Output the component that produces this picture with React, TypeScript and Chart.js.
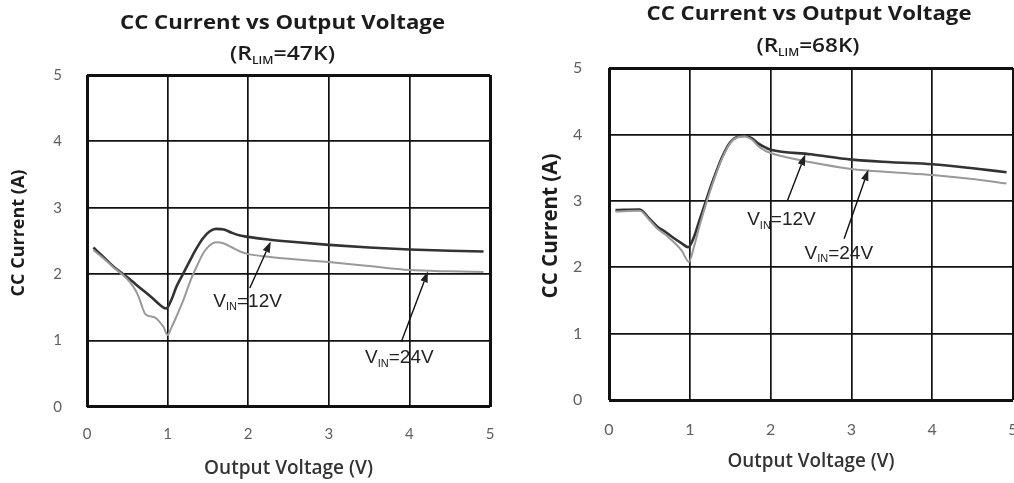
import React, { useEffect, useRef } from "react";
import { Chart, registerables } from "chart.js";
Chart.register(...registerables);

// ---------------- data ----------------
const xTickValues = [0, 1, 2, 3, 4, 5];
const yTickValues = [0, 1, 2, 3, 4, 5];
const xTickLabels = ["0", "1", "2", "3", "4", "5"];
const yTickLabels = ["0", "1", "2", "3", "4", "5"];

const seriesNames = ["VIN=12V", "VIN=24V"];

// Left panel (RLIM = 47K)
const left12V_x = [0.08, 0.2, 0.33, 0.5, 0.66, 0.8, 0.91, 0.98, 1.05, 1.11, 1.2, 1.28, 1.36, 1.44, 1.52, 1.6, 1.7, 1.8, 1.9, 2.0, 2.25, 2.5, 3.0, 3.5, 4.0, 4.5, 4.92];
const left12V_y = [2.40, 2.26, 2.11, 1.95, 1.79, 1.65, 1.53, 1.48, 1.62, 1.81, 2.02, 2.21, 2.39, 2.54, 2.64, 2.68, 2.67, 2.62, 2.58, 2.56, 2.52, 2.49, 2.44, 2.40, 2.37, 2.35, 2.34];
const left24V_x = [0.08, 0.2, 0.33, 0.45, 0.53, 0.6, 0.64, 0.68, 0.72, 0.76, 0.8, 0.85, 0.9, 0.95, 1.0, 1.05, 1.11, 1.2, 1.28, 1.36, 1.44, 1.52, 1.6, 1.7, 1.8, 1.9, 2.0, 2.25, 2.5, 3.0, 3.5, 4.0, 4.5, 4.92];
const left24V_y = [2.36, 2.24, 2.10, 1.98, 1.88, 1.76, 1.66, 1.52, 1.40, 1.37, 1.36, 1.34, 1.28, 1.20, 1.08, 1.20, 1.36, 1.62, 1.89, 2.11, 2.31, 2.43, 2.48, 2.46, 2.40, 2.34, 2.30, 2.26, 2.23, 2.18, 2.12, 2.06, 2.04, 2.03];

// Right panel (RLIM = 68K)
const right12V_x = [0.08, 0.38, 0.5, 0.6, 0.7, 0.8, 0.9, 0.98, 1.05, 1.12, 1.2, 1.3, 1.4, 1.5, 1.6, 1.68, 1.77, 1.85, 1.94, 2.0, 2.5, 3.0, 3.5, 4.0, 4.5, 4.92];
const right12V_y = [2.86, 2.87, 2.73, 2.61, 2.53, 2.44, 2.36, 2.30, 2.45, 2.71, 3.0, 3.35, 3.66, 3.88, 3.97, 3.98, 3.94, 3.86, 3.80, 3.77, 3.70, 3.62, 3.58, 3.55, 3.49, 3.43];
const right24V_x = [0.08, 0.38, 0.5, 0.6, 0.7, 0.8, 0.9, 0.99, 1.05, 1.12, 1.2, 1.3, 1.4, 1.5, 1.6, 1.68, 1.77, 1.85, 1.94, 2.0, 2.5, 3.0, 3.5, 4.0, 4.5, 4.92];
const right24V_y = [2.84, 2.85, 2.71, 2.58, 2.49, 2.38, 2.25, 2.08, 2.30, 2.62, 2.95, 3.32, 3.64, 3.87, 3.96, 3.97, 3.92, 3.82, 3.75, 3.72, 3.58, 3.48, 3.43, 3.39, 3.33, 3.26];

// annotation anchors (data units): label start/baseline, arrow tail, arrow tip
const leftLabelAt = [[1.567, 1.51], [3.45, 0.66]];
const leftArrowFrom = [[2.02, 1.79], [3.90, 0.98]];
const leftArrowTo = [[2.28, 2.49], [4.23, 2.04]];
const rightLabelAt = [[1.71, 2.63], [2.42, 2.13]];
const rightArrowFrom = [[2.21, 3.01], [2.91, 2.43]];
const rightArrowTo = [[2.43, 3.70], [3.21, 3.47]];

const titleText = "CC Current vs Output Voltage";
const leftSubtitle = [{ t: "(R" }, { t: "LIM", sub: true }, { t: "=47K)" }];
const rightSubtitle = [{ t: "(R" }, { t: "LIM", sub: true }, { t: "=68K)" }];
const labelPieces = [
  [{ t: "V" }, { t: "IN", sub: true }, { t: "=12V" }],
  [{ t: "V" }, { t: "IN", sub: true }, { t: "=24V" }],
];
const yTitle = "CC Current (A)";
const xTitle = "Output Voltage (V)";

const TITLE_FAMILY = "'Open Sans', Lato, sans-serif";
const TICK_FAMILY = "Lato, 'Open Sans', sans-serif";
const NOTE_FAMILY = "'Liberation Sans', Arial, sans-serif";

// ---------------- helpers ----------------
type Piece = { t: string; sub?: boolean };

let measureCtx: CanvasRenderingContext2D | null = null;
function textWidth(text: string, font: string): number {
  if (!measureCtx) measureCtx = document.createElement("canvas").getContext("2d");
  measureCtx!.font = font;
  return measureCtx!.measureText(text).width;
}
function fitSize(text: string, weight: string, family: string, target: number): number {
  return (100 * target) / textWidth(text, `${weight} 100px ${family}`);
}

function richWidth(ctx: CanvasRenderingContext2D, pieces: Piece[], mainFont: string, subFont: string) {
  return pieces.map((p) => {
    ctx.font = p.sub ? subFont : mainFont;
    return ctx.measureText(p.t).width;
  });
}

function drawRich(
  ctx: CanvasRenderingContext2D, pieces: Piece[], x: number, y: number, size: number,
  family: string, weight: string, align: "left" | "center",
  subScale: number, subDrop: number, targetWidth?: number
) {
  const mainFont = `${weight} ${size}px ${family}`;
  const subFont = `${weight} ${Math.round(size * subScale)}px ${family}`;
  const widths = richWidth(ctx, pieces, mainFont, subFont);
  const total = widths.reduce((a, b) => a + b, 0);
  const sx = targetWidth ? targetWidth / total : 1;
  ctx.save();
  ctx.translate(x, y);
  ctx.scale(sx, 1);
  let cx = align === "center" ? -total / 2 : 0;
  ctx.textAlign = "left";
  ctx.textBaseline = "alphabetic";
  pieces.forEach((p, i) => {
    ctx.font = p.sub ? subFont : mainFont;
    ctx.fillText(p.t, cx, p.sub ? size * subDrop : 0);
    cx += widths[i];
  });
  ctx.restore();
}

function drawArrow(ctx: CanvasRenderingContext2D, x1: number, y1: number, x2: number, y2: number) {
  const ang = Math.atan2(y2 - y1, x2 - x1);
  const len = 11;
  const hw = 3.8;
  const bx = x2 - Math.cos(ang) * len;
  const by = y2 - Math.sin(ang) * len;
  ctx.beginPath();
  ctx.moveTo(x1, y1);
  ctx.lineTo(bx, by);
  ctx.stroke();
  ctx.beginPath();
  ctx.moveTo(x2, y2);
  ctx.lineTo(bx + Math.sin(ang) * hw, by - Math.cos(ang) * hw);
  ctx.lineTo(bx - Math.sin(ang) * hw, by + Math.cos(ang) * hw);
  ctx.closePath();
  ctx.fill();
}

type Spec = {
  left: number; w: number; h: number;
  s12x: number[]; s12y: number[]; s24x: number[]; s24y: number[];
  labelAt: number[][]; arrowFrom: number[][]; arrowTo: number[][];
  subtitle: Piece[];
  padRight: number; padTop: number; yWidth: number; xHeight: number;
  yTickPad: number; xTickPad: number; tickSize: number;
  xTitleWidth: number; xTitleCenterY: number;
  titleX: number; titleY: number; titleSize: number; titleWidth: number;
  subX: number; subY: number; subSize: number; subWidth: number;
  yTitleX: number; yTitleY: number; yTitleLen: number;
};

const toPts = (xs: number[], ys: number[]) => xs.map((x, i) => ({ x, y: ys[i] }));

function buildConfig(spec: Spec): any {
  const yTitleSize = fitSize(yTitle, "bold", TITLE_FAMILY, spec.yTitleLen);
  const xTitleSize = fitSize(xTitle, "600", TITLE_FAMILY, spec.xTitleWidth);
  const xTitlePad = Math.max(0, spec.h - spec.xTitleCenterY - (xTitleSize * 1.2) / 2);

  const decor = {
    id: "decor",
    afterDraw(chart: any) {
      const ctx: CanvasRenderingContext2D = chart.ctx;
      const xs = chart.scales.x;
      const ys = chart.scales.y;
      ctx.save();
      ctx.fillStyle = "#1c1c1c";
      // title (horizontally fitted to the reference width)
      drawRich(ctx, [{ t: titleText }], spec.titleX, spec.titleY, spec.titleSize, TITLE_FAMILY, "bold", "center", 1, 0, spec.titleWidth);
      // subtitle with subscript
      drawRich(ctx, spec.subtitle, spec.subX, spec.subY, spec.subSize, TITLE_FAMILY, "600", "center", 0.55, 0.2, spec.subWidth);
      // y axis title
      ctx.save();
      ctx.translate(spec.yTitleX, spec.yTitleY);
      ctx.rotate(-Math.PI / 2);
      ctx.font = `bold ${yTitleSize}px ${TITLE_FAMILY}`;
      ctx.textAlign = "center";
      ctx.textBaseline = "middle";
      ctx.fillText(yTitle, 0, 0);
      ctx.restore();
      // annotations
      ctx.fillStyle = "#222";
      ctx.strokeStyle = "#111";
      ctx.lineWidth = 1.4;
      for (let k = 0; k < 2; k++) {
        const [lx, ly] = spec.labelAt[k];
        drawRich(ctx, labelPieces[k], xs.getPixelForValue(lx), ys.getPixelForValue(ly), 19, NOTE_FAMILY, "normal", "left", 0.6, 0.2);
        const [ax, ay] = spec.arrowFrom[k];
        const [bx, by] = spec.arrowTo[k];
        drawArrow(ctx, xs.getPixelForValue(ax), ys.getPixelForValue(ay), xs.getPixelForValue(bx), ys.getPixelForValue(by));
      }
      ctx.restore();
    },
  };

  const edgeWidth = (c: any) => (c.tick && (c.tick.value === 0 || c.tick.value === 5) ? 3 : 1.7);

  return {
    type: "line",
    data: {
      datasets: [
        {
          label: seriesNames[0],
          data: toPts(spec.s12x, spec.s12y),
          borderColor: "#333",
          borderWidth: 2.6,
          pointRadius: 0,
          cubicInterpolationMode: "monotone",
          fill: false,
          order: 1,
        },
        {
          label: seriesNames[1],
          data: toPts(spec.s24x, spec.s24y),
          borderColor: "#999",
          borderWidth: 2,
          pointRadius: 0,
          cubicInterpolationMode: "monotone",
          fill: false,
          order: 0,
        },
      ],
    },
    options: {
      responsive: false,
      animation: false,
      devicePixelRatio: 1,
      layout: { padding: { left: 0, right: spec.padRight, top: spec.padTop, bottom: 0 } },
      plugins: { legend: { display: false }, tooltip: { enabled: false }, title: { display: false } },
      scales: {
        x: {
          type: "linear",
          min: 0,
          max: 5,
          afterBuildTicks: (s: any) => { s.ticks = xTickValues.map((v) => ({ value: v })); },
          afterFit: (s: any) => { s.height = spec.xHeight; s.paddingLeft = 0; s.paddingRight = 0; },
          ticks: {
            padding: spec.xTickPad,
            color: "#606060",
            maxRotation: 0,
            font: { family: TICK_FAMILY, size: spec.tickSize },
            callback: (_v: any, i: number) => xTickLabels[i],
          },
          grid: { color: "#111", lineWidth: edgeWidth, drawTicks: false },
          border: { display: false },
          title: {
            display: true,
            text: xTitle,
            color: "#333",
            font: { family: TITLE_FAMILY, size: xTitleSize, weight: "600" },
            padding: { top: 0, bottom: xTitlePad },
          },
        },
        y: {
          type: "linear",
          min: 0,
          max: 5,
          afterBuildTicks: (s: any) => { s.ticks = yTickValues.map((v) => ({ value: v })); },
          afterFit: (s: any) => { s.width = spec.yWidth; s.paddingTop = 0; s.paddingBottom = 0; },
          ticks: {
            padding: spec.yTickPad,
            color: "#606060",
            font: { family: TICK_FAMILY, size: spec.tickSize },
            callback: (_v: any, i: number) => yTickLabels[i],
          },
          grid: { color: "#111", lineWidth: edgeWidth, drawTicks: false },
          border: { display: false },
        },
      },
    },
    plugins: [decor],
  };
}

const leftSpec: Spec = {
  left: 0, w: 505, h: 483,
  s12x: left12V_x, s12y: left12V_y, s24x: left24V_x, s24y: left24V_y,
  labelAt: leftLabelAt, arrowFrom: leftArrowFrom, arrowTo: leftArrowTo,
  subtitle: leftSubtitle,
  padRight: 15, padTop: 75, yWidth: 87, xHeight: 76.3,
  yTickPad: 25, xTickPad: 18, tickSize: 15,
  xTitleWidth: 169, xTitleCenterY: 468.5,
  titleX: 282.5, titleY: 28.5, titleSize: 19, titleWidth: 325,
  subX: 282.5, subY: 60, subSize: 19, subWidth: 105,
  yTitleX: 18.5, yTitleY: 233, yTitleLen: 127,
};

const rightSpec: Spec = {
  left: 505, w: 509, h: 483,
  s12x: right12V_x, s12y: right12V_y, s24x: right24V_x, s24y: right24V_y,
  labelAt: rightLabelAt, arrowFrom: rightArrowFrom, arrowTo: rightArrowTo,
  subtitle: rightSubtitle,
  padRight: 1, padTop: 68, yWidth: 104, xHeight: 83,
  yTickPad: 26.7, xTickPad: 20.4, tickSize: 16,
  xTitleWidth: 167, xTitleCenterY: 461.5,
  titleX: 304, titleY: 20, titleSize: 19, titleWidth: 325,
  subX: 303, subY: 52, subSize: 19, subWidth: 103,
  yTitleX: 46, yTitleY: 226, yTitleLen: 145,
};

function Panel({ spec }: { spec: Spec }) {
  const ref = useRef<HTMLCanvasElement>(null);
  useEffect(() => {
    const chart = new Chart(ref.current as HTMLCanvasElement, buildConfig(spec));
    return () => chart.destroy();
  }, [spec]);
  return (
    <canvas
      ref={ref}
      width={spec.w}
      height={spec.h}
      style={{ position: "absolute", left: spec.left, top: 0, width: spec.w, height: spec.h }}
    />
  );
}

export default function App() {
  return (
    <div style={{ position: "fixed", left: 0, top: 0, width: 1014, height: 483, background: "#fff", overflow: "hidden" }}>
      <Panel spec={leftSpec} />
      <Panel spec={rightSpec} />
    </div>
  );
}
